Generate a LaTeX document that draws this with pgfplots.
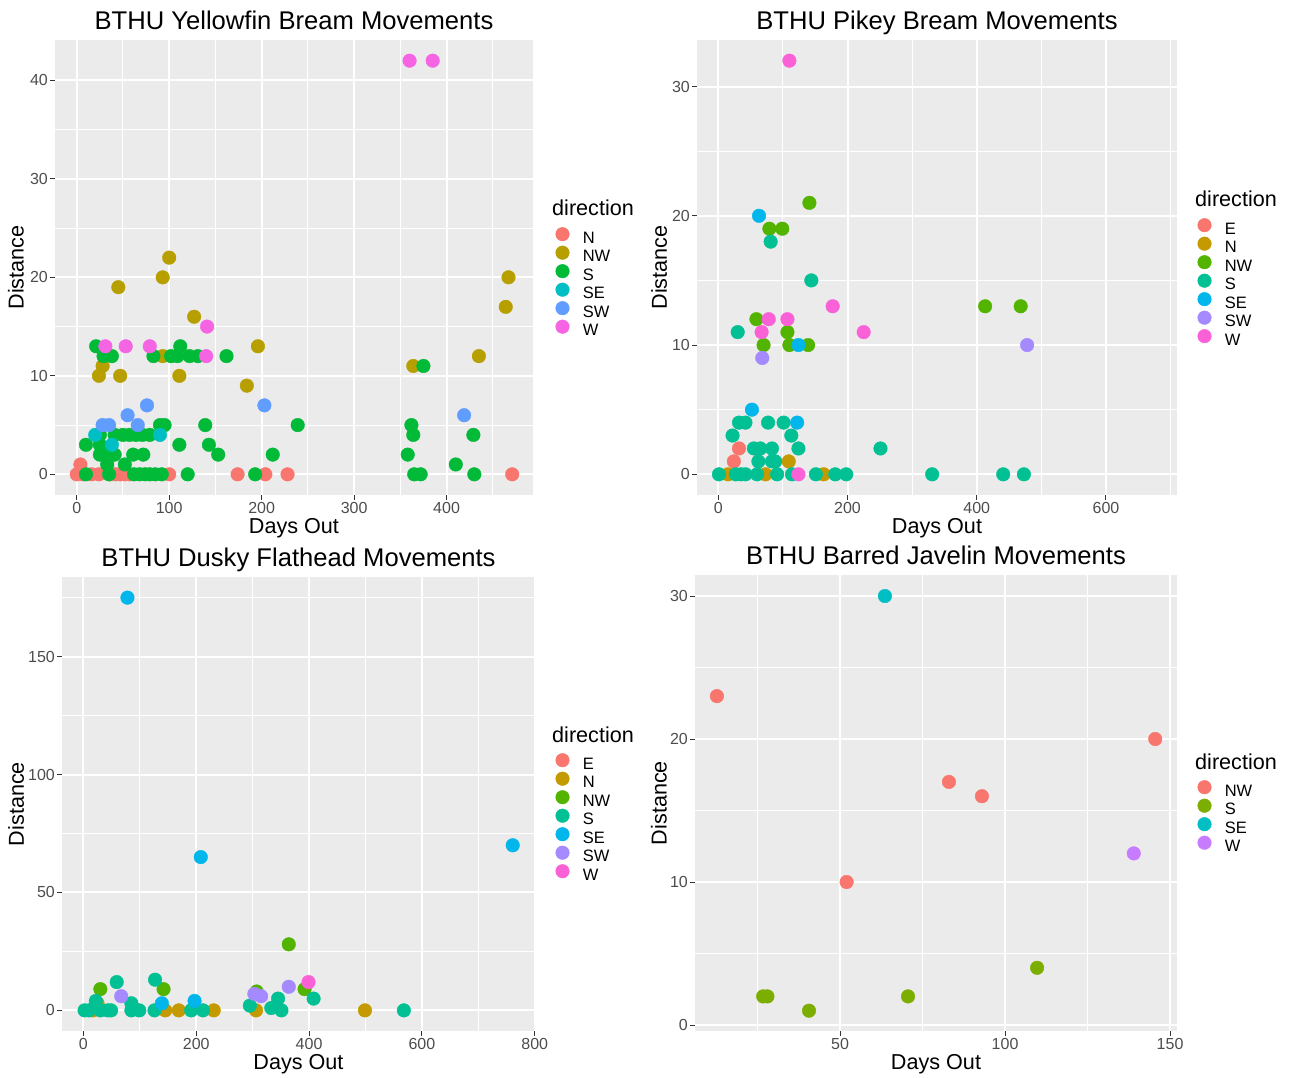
\documentclass[border=0pt]{standalone}
\usepackage{pgfplots}
\pgfplotsset{compat=1.18}
\usepackage{fontspec}
\setmainfont{Liberation Sans}

\definecolor{panelbg}{HTML}{EBEBEB}
\definecolor{ticktext}{HTML}{4D4D4D}
\definecolor{tickcol}{HTML}{333333}
% panel 1 (6 levels)
\definecolor{aN}{HTML}{F8766D}
\definecolor{aNW}{HTML}{B79F00}
\definecolor{aS}{HTML}{00BA38}
\definecolor{aSE}{HTML}{00BFC4}
\definecolor{aSW}{HTML}{619CFF}
\definecolor{aW}{HTML}{F564E3}
% panels 2,3 (7 levels)
\definecolor{bE}{HTML}{F8766D}
\definecolor{bN}{HTML}{C49A00}
\definecolor{bNW}{HTML}{53B400}
\definecolor{bS}{HTML}{00C094}
\definecolor{bSE}{HTML}{00B6EB}
\definecolor{bSW}{HTML}{A58AFF}
\definecolor{bW}{HTML}{FB61D7}
% panel 4 (4 levels)
\definecolor{cNW}{HTML}{F8766D}
\definecolor{cS}{HTML}{7CAE00}
\definecolor{cSE}{HTML}{00BFC4}
\definecolor{cW}{HTML}{C77CFF}

\pgfplotsset{
  gg/.style={
    scale only axis, anchor=south west,
    axis background/.style={fill=panelbg},
    axis line style={draw=none},
    tick align=outside, xtick pos=left, ytick pos=left,
    major tick length=5pt, minor tick length=0pt,
    major tick style={draw=tickcol, line width=1pt},
    grid=both,
    major grid style={draw=white, line width=2pt},
    minor grid style={draw=white, line width=1pt},
    tick label style={font=\fontsize{16}{16}\selectfont, text=ticktext, inner sep=2pt},
    label style={font=\fontsize{21.6}{22}\selectfont},
    title style={font=\fontsize{25.6}{26}\selectfont, at={(0.5,1)}, anchor=base, yshift=4.5pt},
    /pgf/number format/assume math mode=true,
    scaled ticks=false,
    xlabel={Days Out}, ylabel={Distance},
    legend cell align=left,
    legend image code/.code={\draw[##1] plot coordinates {(0pt,5.7pt)};},
  },
  gglegend/.style 2 args={
    legend style={at={(1,1)}, anchor=north west, xshift=#1, yshift=#2,
      draw=none, fill=none, inner sep=0pt, row sep=-3.2pt, column sep=13.5pt,
      font=\fontsize{16.5}{16.5}\selectfont,
      nodes={inner sep=0pt, text height=12.5pt, text depth=5.9pt}},
  },
  dot/.style={only marks, mark=*, mark size=6.8pt, color=#1, mark options={draw=none, fill=#1}},
}

\begin{document}
\begin{tikzpicture}
\useasboundingbox (0pt,0pt) rectangle (1289pt,1077pt);

% ---------------- Panel 1: Yellowfin Bream ----------------
\begin{axis}[gg, at={(55pt,582pt)}, width=478pt, height=455pt,
  xmin=-23.5, xmax=493.5, ymin=-2.1, ymax=44.1,
  xtick={0,100,200,300,400}, minor xtick={50,150,250,350,450},
  ytick={0,10,20,30,40}, minor ytick={5,15,25,35},
  title={BTHU Yellowfin Bream Movements},
  xlabel style={at={(axis description cs:0.5,-0.0725)}, anchor=center},
  ylabel style={at={(axis description cs:-0.0816,0.5)}, anchor=center},
  gglegend={22.5pt}{-187.2pt}]
\addplot[dot=aN] coordinates {(0,0)(4,1)(7,0)(16,0)(24,0)(36,0)(42,0)(47,0)(52,0)(57,0)(100,0)(174,0)(204,0)(228,0)(471,0)};
\addlegendentry{N}
\addplot[dot=aNW] coordinates {(127,16)(100,22)(93,20)(45,19)(28,11)(24,10)(47,10)(111,10)(93,12)(196,13)(184,9)(364,11)(435,12)(464,17)(467,20)};
\addlegendentry{NW}
\addplot[dot=aS] coordinates {(21,13)(112,13)
 (29,12)(38,12)(83,12)(102,12)(109,12)(122,12)(131,12)(162,12)
 (375,11)
 (90,5)(95,5)(139,5)(239,5)(362,5)
 (25,4)(41,4)(50,4)(57,4)(64,4)(71,4)(79,4)(364,4)(429,4)
 (10,3)(25,3)(111,3)(143,3)
 (25,2)(33,2)(41,2)(61,2)(72,2)(153,2)(212,2)(358,2)
 (33,1)(52,1)(410,1)
 (10,0)(35,0)(62,0)(68,0)(74,0)(79,0)(85,0)(92,0)(120,0)(193,0)(365,0)(372,0)(430,0)};
\addlegendentry{S}
\addplot[dot=aSE] coordinates {(20,4)(38,3)(90,4)};
\addlegendentry{SE}
\addplot[dot=aSW] coordinates {(76,7)(55,6)(28,5)(35,5)(66,5)(203,7)(419,6)};
\addlegendentry{SW}
\addplot[dot=aW] coordinates {(31,13)(53,13)(79,13)(141,15)(140,12)(360,42)(385,42)};
\addlegendentry{W}
\end{axis}

% ---------------- Panel 2: Pikey Bream ----------------
\begin{axis}[gg, at={(697pt,582pt)}, width=480pt, height=455pt,
  xmin=-33, xmax=710, ymin=-1.6, ymax=33.6,
  xtick={0,200,400,600}, minor xtick={100,300,500,700},
  ytick={0,10,20,30}, minor ytick={5,15,25},
  title={BTHU Pikey Bream Movements},
  xlabel style={at={(axis description cs:0.5,-0.0725)}, anchor=center},
  ylabel style={at={(axis description cs:-0.079,0.5)}, anchor=center},
  gglegend={20.5pt}{-178.2pt}]
\addplot[dot=bE] coordinates {(32,2)(24,1)};
\addlegendentry{E}
\addplot[dot=bN] coordinates {(15,0)(73,0)(109,1)(163,0)};
\addlegendentry{N}
\addplot[dot=bNW] coordinates {(141,21)(79,19)(99,19)(59,12)(107,11)(70,10)(110,10)(139,10)(413,13)(468,13)};
\addlegendentry{NW}
\addplot[dot=bS] coordinates {(81,18)(144,15)(30,11)(32,4)(42,4)(77,4)(101,4)(22,3)(113,3)(55,2)(65,2)(83,2)(124,2)(62,1)(83,1)(88,1)(1,0)(27,0)(35,0)(42,0)(60,0)(91,0)(114,0)(151,0)(181,0)(198,0)(251,2)(331,0)(441,0)(473,0)};
\addlegendentry{S}
\addplot[dot=bSE] coordinates {(63,20)(124,10)(52,5)(122,4)};
\addlegendentry{SE}
\addplot[dot=bSW] coordinates {(68,9)(478,10)};
\addlegendentry{SW}
\addplot[dot=bW] coordinates {(110,32)(177,13)(78,12)(107,12)(67,11)(225,11)(124,0)};
\addlegendentry{W}
\end{axis}

% ---------------- Panel 3: Dusky Flathead ----------------
\begin{axis}[gg, at={(62pt,46pt)}, width=473pt, height=454pt,
  xmin=-38, xmax=800.5, ymin=-8.75, ymax=183.75,
  xtick={0,200,400,600,800}, minor xtick={100,300,500,700},
  ytick={0,50,100,150}, minor ytick={25,75,125,175},
  title={BTHU Dusky Flathead Movements},
  xlabel style={at={(axis description cs:0.5,-0.0727)}, anchor=center},
  ylabel style={at={(axis description cs:-0.097,0.5)}, anchor=center},
  gglegend={20.5pt}{-176.2pt}]
\addplot[dot=bE] coordinates {(20,1)};
\addlegendentry{E}
\addplot[dot=bN] coordinates {(17,0)(25,3)(145,0)(169,0)(231,0)(306,0)(499,0)};
\addlegendentry{N}
\addplot[dot=bNW] coordinates {(30,9)(142,9)(307,8)(364,28)(392,9)};
\addlegendentry{NW}
\addplot[dot=bS] coordinates {(2,0)(10,0)(30,0)(43,0)(49,0)(85,0)(99,0)(126,0)(191,0)(212,0)(22,4)(85,3)(59,12)(127,13)(295,2)(333,1)(351,0)(345,5)(408,5)(568,0)};
\addlegendentry{S}
\addplot[dot=bSE] coordinates {(78,175)(208,65)(761,70)(139,3)(197,4)};
\addlegendentry{SE}
\addplot[dot=bSW] coordinates {(67,6)(303,7)(315,6)(364,10)};
\addlegendentry{SW}
\addplot[dot=bW] coordinates {(399,12)};
\addlegendentry{W}
\end{axis}

% ---------------- Panel 4: Barred Javelin ----------------
\begin{axis}[gg, at={(695pt,46pt)}, width=482pt, height=456pt,
  xmin=6.06, xmax=152.1, ymin=-0.42, ymax=31.47,
  xtick={50,100,150}, minor xtick={25,75,125},
  ytick={0,10,20,30}, minor ytick={5,15,25},
  title={BTHU Barred Javelin Movements},
  xlabel style={at={(axis description cs:0.5,-0.0724)}, anchor=center},
  ylabel style={at={(axis description cs:-0.0747,0.5)}, anchor=center},
  gglegend={20.5pt}{-205.2pt}]
\addplot[dot=cNW] coordinates {(12.7,23)(52,10)(83,17)(93,16)(145.5,20)};
\addlegendentry{NW}
\addplot[dot=cS] coordinates {(26.7,2)(28,2)(40.6,1)(70.6,2)(109.7,4)};
\addlegendentry{S}
\addplot[dot=cSE] coordinates {(63.6,30)};
\addlegendentry{SE}
\addplot[dot=cW] coordinates {(139,12)};
\addlegendentry{W}
\end{axis}

% legend titles
\node[anchor=west, inner sep=0pt, font=\fontsize{21.6}{22}\selectfont] at (552pt,869pt) {direction};
\node[anchor=west, inner sep=0pt, font=\fontsize{21.6}{22}\selectfont] at (1195pt,878pt) {direction};
\node[anchor=west, inner sep=0pt, font=\fontsize{21.6}{22}\selectfont] at (552pt,342pt) {direction};
\node[anchor=west, inner sep=0pt, font=\fontsize{21.6}{22}\selectfont] at (1195pt,315pt) {direction};
\end{tikzpicture}
\end{document}
